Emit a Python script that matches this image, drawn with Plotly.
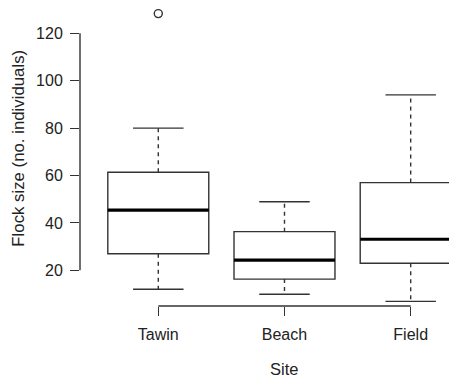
import plotly.graph_objects as go

sites = ["Tawin", "Beach", "Field"]
positions = [1, 2, 3]
lower_whisker = [12.0, 9.9, 6.9]
q1 = [27.0, 16.3, 23.0]
median = [45.4, 24.3, 33.1]
q3 = [61.4, 36.3, 57.0]
upper_whisker = [80.0, 48.9, 94.0]
outlier_x = [1]
outlier_y = [128.3]
y_ticks = [20, 40, 60, 80, 100, 120]

BOX_W = 0.8
CAP_W = 0.4
LINE = "#333333"
FONT = "Liberation Sans, Arial, Helvetica, sans-serif"

fig = go.Figure()

# boxes (whiskers drawn separately as dashed lines)
fig.add_trace(go.Box(
    x=positions, q1=q1, median=median, q3=q3,
    lowerfence=q1, upperfence=q3,
    width=BOX_W, whiskerwidth=0,
    fillcolor="rgba(0,0,0,0)",
    line=dict(color=LINE, width=1.4),
    boxpoints=False, hoverinfo="skip", showlegend=False,
))

for i, xp in enumerate(positions):
    # dashed whiskers
    for a, b in [(q3[i], upper_whisker[i]), (q1[i], lower_whisker[i])]:
        fig.add_trace(go.Scatter(
            x=[xp, xp], y=[a, b], mode="lines",
            line=dict(color=LINE, width=1.4, dash="4px,4px"),
            showlegend=False, hoverinfo="skip"))
    # caps
    for v in [upper_whisker[i], lower_whisker[i]]:
        fig.add_trace(go.Scatter(
            x=[xp - CAP_W / 2, xp + CAP_W / 2], y=[v, v], mode="lines",
            line=dict(color=LINE, width=1.4),
            showlegend=False, hoverinfo="skip"))
    # thick median
    fig.add_trace(go.Scatter(
        x=[xp - BOX_W / 2, xp + BOX_W / 2], y=[median[i], median[i]],
        mode="lines", line=dict(color="black", width=3.2),
        showlegend=False, hoverinfo="skip"))

# outlier
fig.add_trace(go.Scatter(
    x=outlier_x, y=outlier_y, mode="markers", cliponaxis=False,
    marker=dict(symbol="circle-open", size=8, color=LINE, line=dict(width=1.4)),
    showlegend=False, hoverinfo="skip"))

# R-style axis lines spanning only the ticks
fig.add_shape(type="line", xref="paper", yref="y", x0=0, x1=0,
              y0=y_ticks[0], y1=y_ticks[-1], line=dict(color=LINE, width=1.4))
fig.add_shape(type="line", xref="x", yref="paper", x0=positions[0], x1=positions[-1],
              y0=0, y1=0, line=dict(color=LINE, width=1.4))

fig.add_annotation(text="Flock size (no. individuals)", xref="paper", yref="paper",
                   x=-0.164, y=0.5285, textangle=-90, showarrow=False,
                   xanchor="center", yanchor="middle",
                   font=dict(family=FONT, size=16.8, color="#222222"))
fig.add_annotation(text="Site", xref="paper", yref="paper",
                   x=0.541, y=-0.2114, showarrow=False,
                   xanchor="center", yanchor="middle",
                   font=dict(family=FONT, size=16.5, color="#222222"))

fig.update_layout(
    width=449, height=371,
    margin=dict(l=72, r=0, t=0, b=73),
    paper_bgcolor="white", plot_bgcolor="white",
    font=dict(family=FONT, size=16, color="#222222"),
    xaxis=dict(range=[0.3796, 3.367], tickvals=positions, ticktext=sites,
               ticks="outside", ticklen=9, tickwidth=1.4, tickcolor=LINE,
               ticklabelstandoff=5,
               showline=False, showgrid=False, zeroline=False),
    yaxis=dict(range=[4.94, 130.67], tickvals=y_ticks,
               ticks="outside", ticklen=9, tickwidth=1.4, tickcolor=LINE,
               ticklabelstandoff=4,
               showline=False, showgrid=False, zeroline=False),
)

fig.write_html("out.html")
